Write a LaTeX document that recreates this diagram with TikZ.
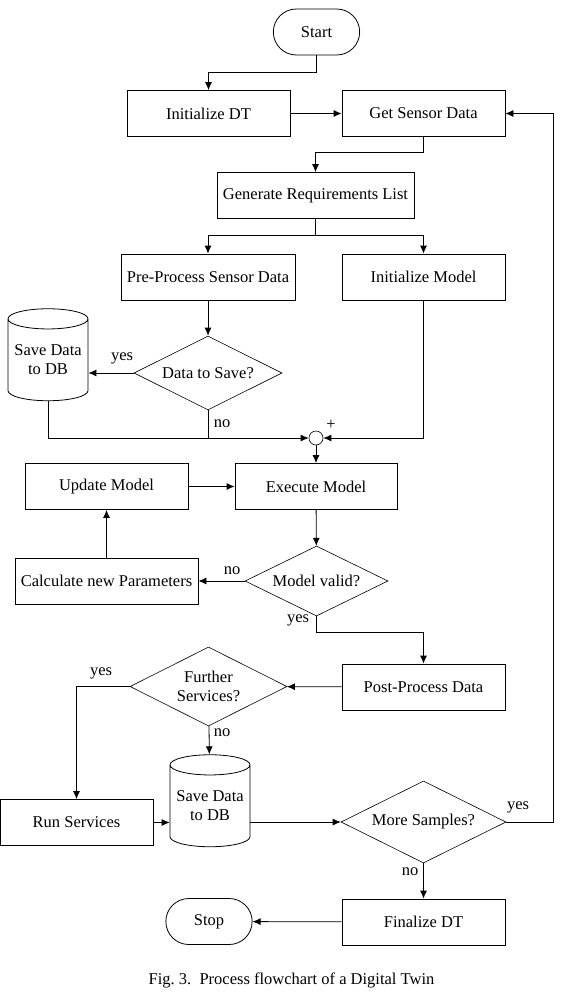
\documentclass[tikz,border=0pt]{standalone}
\usepackage{fontspec}
\setmainfont{Liberation Serif}
\usepackage{tikz}
\usetikzlibrary{shapes.geometric,shapes.misc,arrows.meta}
\usepackage{xcolor}

\begin{document}
\begin{tikzpicture}[x=1pt,y=-1pt,
    font=\fontsize{16.5}{19}\selectfont,
    every path/.style={line width=0.8pt},
    arr/.style={-{Latex[length=8pt,width=7pt]}},
    procbox/.style={draw,align=center,minimum height=46,minimum width=163,inner sep=4pt},
    termbox/.style={draw,rounded rectangle,minimum height=46,minimum width=93},
    decbox/.style={draw,diamond,aspect=2.2,align=center,inner sep=0pt,line width=0.6pt},
    dbbox/.style={draw,cylinder,shape border rotate=90,aspect=0.3,align=center,minimum width=80,minimum height=92,inner sep=0pt},
    sumnode/.style={draw,circle,minimum size=14,inner sep=0pt,line width=0.6pt},
    lbl/.style={inner sep=1pt}]

    \useasboundingbox (0,0) rectangle (583,995);

    \node[termbox] (St) at (316.5,32) {Start};

    \node[procbox] (InDT) at (208.5,113.5) {Initialize DT};
    \node[procbox] (GeSeDa) at (423.5,113.5) {Get Sensor Data};
    \node[procbox,minimum width=197] (GeReLi) at (315.5,195.5) {Generate Requirements List};

    \node[procbox,minimum width=174] (PrSeDa) at (208,277) {Pre-Process Sensor Data};
    \node[procbox] (InMo) at (423.5,277) {Initialize Model};

    \node[decbox,minimum width=148,minimum height=74] (DaSa) at (208,373) {Data to Save?};
    \node[dbbox] (SaDB) at (48,360) {Save Data\\to DB};

    \node[sumnode] (Su) at (316,438) {};
    \node[lbl] (SuPl) at (331,425) {+};

    \node[procbox] (UpMo) at (106.5,486.5) {Update Model};
    \node[procbox,minimum width=162] (ExMo) at (316,486.5) {Execute Model};

    \node[decbox,minimum width=143,minimum height=70] (MoVa) at (316.5,581) {Model valid?};
    \node[procbox,minimum width=183] (CaPa) at (106.5,581) {Calculate new Parameters};

    \node[procbox] (PoDa) at (423.5,687) {Post-Process Data};
    \node[decbox,aspect=1.9,minimum width=157,minimum height=79] (FuSe) at (208.5,686.5) {Further\\Services?};

    \node[procbox,minimum width=153] (RuSe) at (76.5,822.5) {Run Services};
    \node[dbbox] (SaDBb) at (210,806) {Save Data\\to DB};
    \node[decbox,minimum width=165,minimum height=82] (MoSa) at (423.5,822) {More Samples?};

    \node[procbox] (FiDT) at (423.5,922) {Finalize DT};
    \node[termbox] (Sp) at (209,921.5) {Stop};

    \node[lbl] (DaSaY) at (122,358) {yes};
    \node[lbl] (DaSaN) at (222,424) {no};
    \node[lbl] (MoVaN) at (232,571) {no};
    \node[lbl] (MoVaY) at (298,620) {yes};
    \node[lbl] (FuSeY) at (101,673) {yes};
    \node[lbl] (FuSeN) at (222,733) {no};
    \node[lbl] (MoSaY) at (518,807) {yes};
    \node[lbl] (MoSaN) at (410,872) {no};

    \node (Cap) at (291.5,980) {Fig.~3.\ \ Process flowchart of a Digital Twin};

    \draw[arr] (St.south) -- ++(0,17) -| (InDT.north);
    \draw[arr] (InDT) to (GeSeDa);
    \draw[arr] (GeSeDa.south) -- ++(0,16) -| (GeReLi.north);

    \draw (GeReLi.south) -- ++(0,16) coordinate (GeReLiS);
    \draw[arr] (GeReLiS) -| (PrSeDa.north);
    \draw[arr] (GeReLiS) -| (InMo.north);

    \draw[arr] (PrSeDa) to (DaSa);
    \draw[arr] (DaSa.west) -- (DaSa.west -| SaDB.east);
    \draw (DaSa.south) -- (DaSa.south |- Su.west);
    \draw[arr] (SaDB.south) |- (Su.west);
    \draw[arr] (InMo.south) |- (Su.east);
    \draw[arr] (Su) to (ExMo);

    \draw[arr] (UpMo) to (ExMo);
    \draw[arr] (ExMo) to (MoVa);
    \draw[arr] (MoVa) to (CaPa);
    \draw[arr] (CaPa) to (UpMo);
    \draw[arr] (MoVa.south) -- ++(0,16) -| (PoDa.north);

    \draw[arr] (PoDa) to (FuSe);
    \draw[arr] (FuSe.west) -| (RuSe.north);
    \draw[arr] (FuSe) to (SaDBb);
    \draw[arr] (RuSe.east) -- (RuSe.east -| SaDBb.west);
    \draw[arr] (MoSa.west -| SaDBb.east) -- (MoSa.west);

    \draw[arr] (MoSa.east) -- ++(47,0) |- (GeSeDa.east);
    \draw[arr] (MoSa) to (FiDT);
    \draw[arr] (FiDT) to (Sp);

\end{tikzpicture}
\end{document}
